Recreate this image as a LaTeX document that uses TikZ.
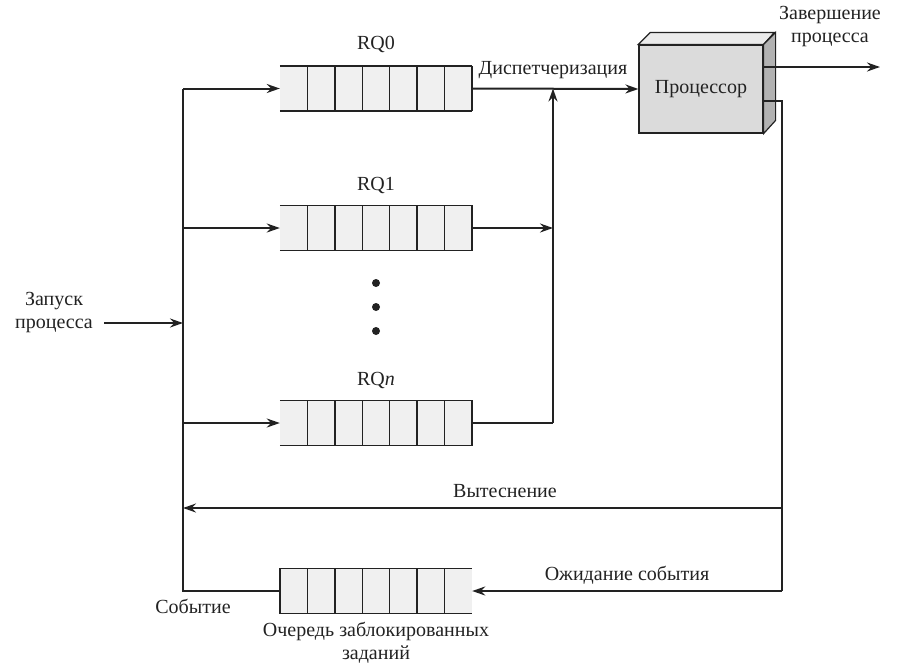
\documentclass[tikz,border=0pt]{standalone}
\usepackage{fontspec}
\setmainfont{Liberation Serif}
\usetikzlibrary{arrows.meta,calc}
\definecolor{ink}{HTML}{222222}
\definecolor{qfill}{HTML}{F0F0F0}
\tikzset{
  every node/.style={font=\fontsize{20}{23}\selectfont, text=ink},
  ln/.style={draw=ink, line width=2pt},
  arr/.style={ln, -{Stealth[length=13pt,width=9pt]}},
  queue/.style={fill=qfill, draw=none, minimum width=192pt, minimum height=45pt, inner sep=0pt},
  lbl/.style={inner sep=1pt, align=center},
  cell/.style={draw=ink, line width=1.5pt},
}
\newcommand{\qcells}[2]{% #1 node name, #2 = 1 draw left edge
  \draw[cell] (#1.north west) -- (#1.north east);
  \draw[cell] (#1.south west) -- (#1.south east);
  \foreach \i in {1,...,6}{
    \draw[cell] ($(#1.north west)!\i/7!(#1.north east)$) -- ($(#1.south west)!\i/7!(#1.south east)$);
  }
  \ifnum#2=1 \draw[cell] (#1.north west) -- (#1.south west); \else \draw[cell] (#1.north east) -- (#1.south east); \fi
}
\begin{document}
\begin{tikzpicture}[x=1pt,y=-1pt]
\useasboundingbox (0,0) rectangle (900,665);

% queues
\node[queue] (q0) at (376,88.5) {};
\node[queue] (q1) at (376,228) {};
\node[queue] (qn) at (376,423) {};
\node[queue] (qb) at (376,591) {};
\qcells{q0}{0}
\qcells{q1}{0}
\qcells{qn}{0}
\qcells{qb}{1}

\node[lbl] (l0) at (376,44) {RQ0};
\node[lbl] (l1) at (376,185) {RQ1};
\node[lbl] (ln) at (376,380) {RQ\textit{n}};
\fill[ink] (376,283) circle (4pt);
\fill[ink] (376,307) circle (4pt);
\fill[ink] (376,331) circle (4pt);

% processor
\node[fill=black!14, draw=ink, line width=1.2pt, minimum width=124pt, minimum height=88pt, inner sep=0pt] (proc) at (701,89) {Процессор};
\draw[ink, line width=1.2pt, fill=black!8] (proc.north west) -- ++(12,-12) -- ++(124,0) -- (proc.north east) -- cycle;
\draw[ink, line width=1.2pt, fill=black!30] (proc.north east) -- ++(12,-12) -- ++(0,88) -- (proc.south east) -- cycle;

% coordinates
\coordinate (vtop) at (183,88.5);
\coordinate (vin) at (183,323);
\coordinate (vpre) at (183,508);
\coordinate (vbot) at (183,591);
\coordinate (in0) at (104,323);
\coordinate (d0) at (553,88.5);
\coordinate (dn) at (553,423);
\coordinate (out) at (880,67);
\coordinate (r0) at (782,101);
\coordinate (r1) at (782,508);
\coordinate (r2) at (782,591);

% left bus
\draw[ln] (qb.west) -- (vbot) -- (vtop);
\draw[arr] (vtop) -- (q0.west);
\draw[arr] (vtop |- q1) -- (q1.west);
\draw[arr] (vtop |- qn) -- (qn.west);
\draw[arr] (in0) -- (vin);
\node[lbl] (start) at (54,312) {Запуск\\процесса};

% dispatch
\draw[arr] (q0.east) -- (proc.west);
\draw[arr] (q1.east) -- (q1.east -| d0);
\draw[ln] (qn.east) -- (dn);
\draw[arr] (dn) -- (d0);
\node[lbl] (disp) at (553,70) {Диспетчеризация};

% outputs
\draw[arr] (proc.east |- out) -- (out);
\node[lbl] (fin) at (830,26) {Завершение\\процесса};
\draw[ln] (proc.east |- r0) -- (r0) -- (r2);
\draw[arr] (r1) -- (vpre);
\node[lbl] (pre) at (505,491) {Вытеснение};
\draw[arr] (r2) -- (qb.east);
\node[lbl] (wait) at (627,575) {Ожидание события};
\node[lbl] (ev) at (193,606) {Событие};
\node[lbl] (bq) at (376,643) {Очередь заблокированных\\заданий};
\end{tikzpicture}
\end{document}
